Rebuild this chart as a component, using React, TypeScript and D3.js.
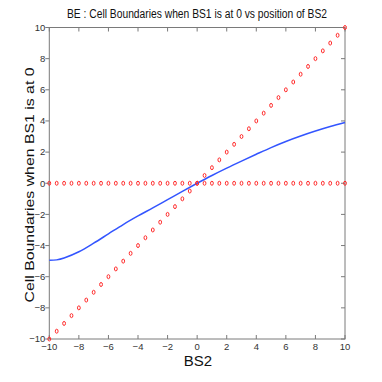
import React from "react";
import * as d3 from "d3";

const curveX = [-10, -9.5, -9, -8, -7, -6, -5, -4, -3, -2, -1, 0, 1, 2, 3, 4, 5, 6, 7, 8, 9, 10];
const curveY = [-4.95, -4.92, -4.8, -4.4, -3.85, -3.25, -2.65, -2.1, -1.58, -1.05, -0.52, 0, 0.5, 0.97, 1.42, 1.86, 2.29, 2.68, 3.03, 3.35, 3.64, 3.9];
const markerX = [-10, -9.5, -9, -8.5, -8, -7.5, -7, -6.5, -6, -5.5, -5, -4.5, -4, -3.5, -3, -2.5, -2, -1.5, -1, -0.5, 0, 0.5, 1, 1.5, 2, 2.5, 3, 3.5, 4, 4.5, 5, 5.5, 6, 6.5, 7, 7.5, 8, 8.5, 9, 9.5, 10];
const xTicks = [-10, -8, -6, -4, -2, 0, 2, 4, 6, 8, 10];
const yTicks = [-10, -8, -6, -4, -2, 0, 2, 4, 6, 8, 10];
const title = "BE : Cell Boundaries when BS1 is at 0 vs position of BS2";
const xLabel = "BS2";
const yLabel = "Cell Boundaries when BS1 is at 0";

export default function App() {
  const L = 49.3, R = 345, T = 27.5, B = 339;
  const x = d3.scaleLinear().domain([-10, 10]).range([L, R]);
  const y = d3.scaleLinear().domain([-10, 10]).range([B, T]);
  const line = d3.line<number>().x((_, i) => x(curveX[i])).y((d) => y(d)).curve(d3.curveCatmullRom);
  const axisColor = "#7a7a7a";
  const red = "#ff2a2a";
  const font = "'Liberation Sans Narrow', 'Liberation Sans', Arial, sans-serif";
  const tl = 4;
  return (
    <svg width={382} height={382} style={{ position: "absolute", left: 0, top: 0, background: "#fff" }}>
      <rect x={0} y={0} width={382} height={382} fill="#fff" />
      <text x={197} y={18} textAnchor="middle" fontFamily={font} fontSize={12.5} textLength={260} lengthAdjust="spacingAndGlyphs" fill="#111">{title}</text>
      {xTicks.map((t) => (
        <g key={"xt" + t}>
          <line x1={x(t)} x2={x(t)} y1={B} y2={B - tl} stroke={axisColor} strokeWidth={1} />
          <line x1={x(t)} x2={x(t)} y1={T} y2={T + tl} stroke={axisColor} strokeWidth={1} />
          <text x={x(t)} y={350} textAnchor="middle" fontFamily={font} fontSize={9.5} fill="#333">{t < 0 ? "\u2212" + Math.abs(t) : t}</text>
        </g>
      ))}
      {yTicks.map((t) => (
        <g key={"yt" + t}>
          <line x1={L} x2={L - tl} y1={y(t)} y2={y(t)} stroke={axisColor} strokeWidth={1} />
          <line x1={R} x2={R - tl} y1={y(t)} y2={y(t)} stroke={axisColor} strokeWidth={1} />
          <text x={L - 4} y={y(t) + 3.3} textAnchor="end" fontFamily={font} fontSize={9.5} fill="#333">{t < 0 ? "\u2212" + Math.abs(t) : t}</text>
        </g>
      ))}
      <rect x={L} y={T} width={R - L} height={B - T} fill="none" stroke={axisColor} strokeWidth={1} />
      <path d={line(curveY) || ""} fill="none" stroke="#3355ff" strokeWidth={1.5} />
      {markerX.map((v) => (
        <ellipse key={"d" + v} cx={x(v)} cy={y(v)} rx={1.4} ry={2} fill="none" stroke={red} strokeWidth={1} />
      ))}
      {markerX.map((v) => (
        <ellipse key={"h" + v} cx={x(v)} cy={y(0)} rx={1.4} ry={2} fill="none" stroke={red} strokeWidth={1} />
      ))}
      <text x={198} y={366} textAnchor="middle" fontFamily={font} fontSize={15} fill="#111">{xLabel}</text>
      <text transform={`translate(34,185) rotate(-90)`} textAnchor="middle" fontFamily="'Liberation Sans', Arial, sans-serif" fontSize={13} textLength={235} lengthAdjust="spacingAndGlyphs" fill="#111">{yLabel}</text>
    </svg>
  );
}
